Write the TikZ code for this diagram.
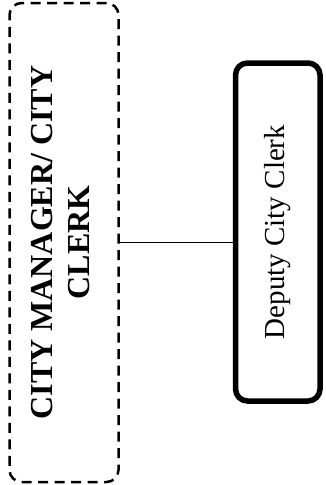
\documentclass[tikz,border=0pt]{standalone}
\usepackage{fontspec}
\setmainfont{Liberation Serif}
\usepackage{graphicx}
\tikzset{
  mgrbox/.style={draw, line width=2.5pt, dash pattern=on 10pt off 6.5pt, rounded corners=12pt,
    minimum width=109pt, minimum height=479pt, inner sep=0pt, outer sep=0pt},
  deputybox/.style={draw, line width=5.5pt, rounded corners=12pt,
    minimum width=84.5pt, minimum height=338pt, inner sep=0pt, outer sep=0pt},
  link/.style={draw, line width=1.5pt}
}
\begin{document}
\begin{tikzpicture}[x=1pt,y=-1pt]
\useasboundingbox (0,0) rectangle (325,485);
\node[mgrbox] (L) at (64,242.5) {\rotatebox{90}{\fontsize{32}{37}\selectfont\bfseries
  \begin{tabular}{@{}c@{}}CITY MANAGER/ CITY\\CLERK\end{tabular}}};
\node[deputybox] (R) at (277.75,232) {\rotatebox{90}{\fontsize{29}{34}\selectfont Deputy City Clerk}};
\draw[link] (L.east) -- (L.east -| R.west);
\end{tikzpicture}
\end{document}
